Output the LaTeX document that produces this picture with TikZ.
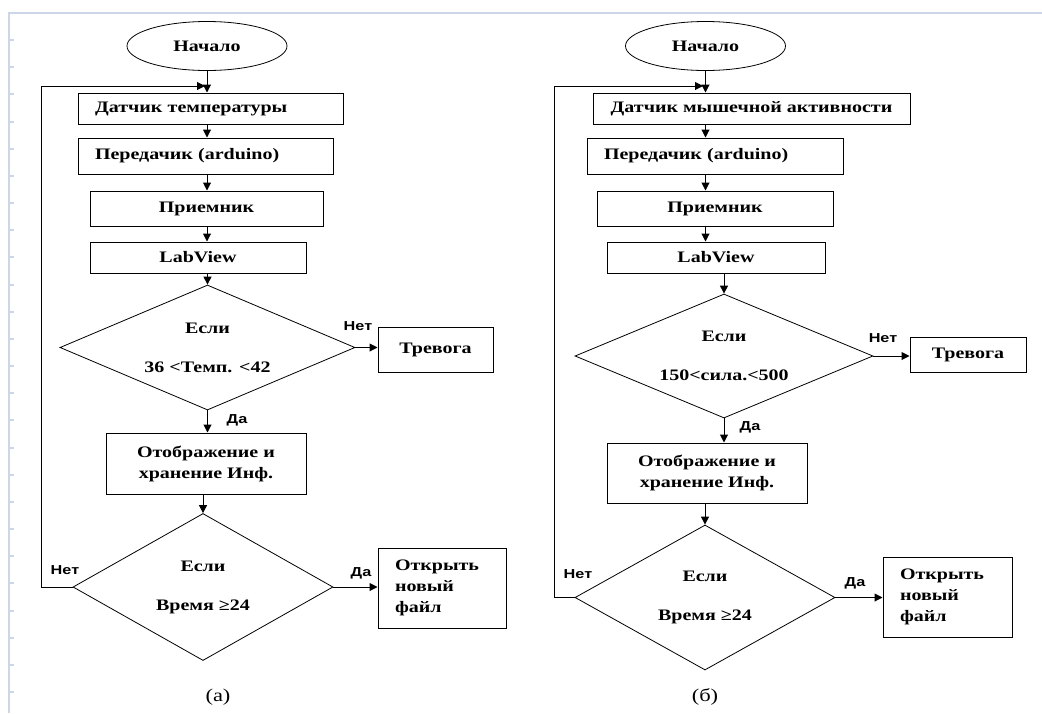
\documentclass[tikz,border=0pt]{standalone}
\usepackage{fontspec}
\setmainfont{Liberation Serif}[FakeStretch=1.25]
\newfontfamily\labelfont{Liberation Sans}[FakeStretch=1.25]
\usepackage{tikz}
\usetikzlibrary{shapes.geometric,arrows.meta}
\definecolor{pageline}{RGB}{205,214,230}
\newcommand{\boxfont}{\fontsize{16}{19}\selectfont\bfseries}
\newcommand{\notefont}{\labelfont\fontsize{13}{15}\selectfont\bfseries}
\begin{document}
\begin{tikzpicture}[x=1pt, y=-1pt,
  every node/.style = {align=center, font=\boxfont},
  block/.style = {shape=rectangle, draw, line width=1pt, inner sep=0pt},
  padded/.style = {align=left, inner xsep=17pt},
  start/.style = {shape=ellipse, draw, line width=0.8pt, inner sep=0pt,
    minimum width=160pt, minimum height=49pt},
  test/.style = {shape=diamond, draw, line width=0.8pt, inner sep=0pt},
  arr/.style = {-{Triangle[length=8pt,width=8pt]}, line width=1pt},
  note/.style = {font=\notefont, inner sep=0pt},
  caption/.style = {font=\fontsize{18}{20}\selectfont}]
  \useasboundingbox (0,0) rectangle (1042,713);
  % page edge
  \draw[pageline, line width=2pt] (1042,13) -- (9,13) -- (9,713);
  \foreach \t in {0,...,24}
    \draw[pageline, line width=2pt] (9,40+27.17*\t) -- (14,40+27.17*\t);

  % (a)
  \node[start] (startA) at (207,46) {Начало};
  \node[block, padded, text width=231pt, minimum height=31pt] (sensA) at (210.5,108.5) {Датчик температуры};
  \node[block, padded, text width=221pt, minimum height=36pt] (txA) at (205.5,156) {Передачик (arduino)};
  \node[block, minimum width=233pt, minimum height=35pt] (rxA) at (206.5,208.5) {Приемник};
  \node[block, minimum width=216pt, minimum height=31pt] (lvA) at (198,257.5) {LabView};
  \node[test, aspect=2.36, minimum width=295pt, minimum height=125pt] (chkA) at (207.5,347.5)
    {Если\\[20pt]36 <Темп. <42};
  \node[block, minimum width=115pt, minimum height=45pt] (alarmA) at (435.5,349.5) {Тревога};
  \node[block, minimum width=200pt, minimum height=61pt] (saveA) at (206,463.5)
    {Отображение и\\[2pt]хранение Инф.};
  \node[test, aspect=1.77, minimum width=260pt, minimum height=147pt] (timeA) at (203,587)
    {Если\\[20pt]Время ≥24};
  \node[block, padded, text width=94pt, minimum height=80pt] (newA) at (442,588)
    {Открыть\\[2pt]новый\\[2pt]файл};
  \node[caption] (capA) at (218,697) {(a)};
  \coordinate (turnA) at (41,86);
  \coordinate (joinA) at (205,86);

  \foreach \a/\b in {startA/sensA, sensA/txA, txA/rxA, rxA/lvA}
    \draw[arr] (startA.south |- \a.south) -- (startA.south |- \b.north);
  \draw[arr] (chkA.north |- lvA.south) -- (chkA.north);
  \draw[arr] (chkA.east) -- (chkA.east -| alarmA.west);
  \draw[arr] (chkA.south) -- (chkA.south |- saveA.north);
  \draw[arr] (timeA.north |- saveA.south) -- (timeA.north);
  \draw[arr] (timeA.east) -- (timeA.east -| newA.west);
  \draw[arr] (timeA.west) -| (turnA) -- (joinA);
  \node[note] (noA1) at (358,326) {Нет};
  \node[note] (yesA1) at (237,420) {Да};
  \node[note] (noA2) at (65,570) {Нет};
  \node[note] (yesA2) at (361,573) {Да};

  % (b)
  \node[start] (startB) at (705.5,46) {Начало};
  \node[block, minimum width=317pt, minimum height=31pt] (sensB) at (751.5,108.5) {Датчик мышечной активности};
  \node[block, padded, text width=222pt, minimum height=36pt] (txB) at (715,156) {Передачик (arduino)};
  \node[block, minimum width=236pt, minimum height=35pt] (rxB) at (715,208.5) {Приемник};
  \node[block, minimum width=218pt, minimum height=31pt] (lvB) at (716,257.5) {LabView};
  \node[test, aspect=2.4, minimum width=298pt, minimum height=124pt] (chkB) at (724,356)
    {Если\\[20pt]150<сила.<500};
  \node[block, minimum width=116pt, minimum height=35pt] (alarmB) at (968,354.5) {Тревога};
  \node[block, minimum width=200pt, minimum height=60pt] (saveB) at (707,473)
    {Отображение и\\[2pt]хранение Инф.};
  \node[test, aspect=1.79, minimum width=260pt, minimum height=145pt] (timeB) at (705,597.5)
    {Если\\[20pt]Время ≥24};
  \node[block, padded, text width=95pt, minimum height=80pt] (newB) at (947.5,597)
    {Открыть\\[2pt]новый\\[2pt]файл};
  \node[caption] (capB) at (705,697) {(б)};
  \coordinate (turnB) at (554,86);
  \coordinate (joinB) at (703,86);

  \foreach \a/\b in {startB/sensB, sensB/txB, txB/rxB, rxB/lvB}
    \draw[arr] (startB.south |- \a.south) -- (startB.south |- \b.north);
  \draw[arr] (chkB.north |- lvB.south) -- (chkB.north);
  \draw[arr] (chkB.east) -- (chkB.east -| alarmB.west);
  \draw[arr] (chkB.south) -- (chkB.south |- saveB.north);
  \draw[arr] (timeB.north |- saveB.south) -- (timeB.north);
  \draw[arr] (timeB.east) -- (timeB.east -| newB.west);
  \draw[arr] (timeB.west) -| (turnB) -- (joinB);
  \node[note] (noB1) at (883,338) {Нет};
  \node[note] (yesB1) at (750,427) {Да};
  \node[note] (noB2) at (578,574) {Нет};
  \node[note] (yesB2) at (855,583) {Да};
\end{tikzpicture}
\end{document}
